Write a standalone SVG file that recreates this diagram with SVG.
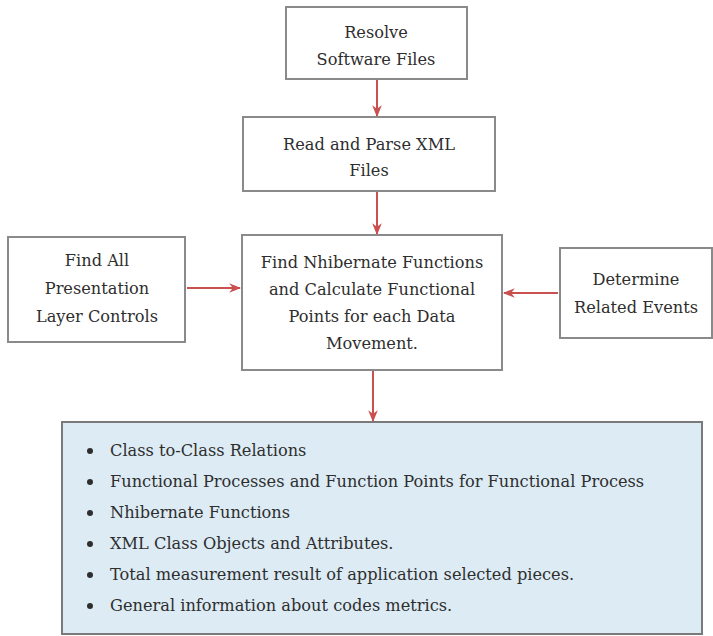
<svg xmlns="http://www.w3.org/2000/svg" width="713" height="636" viewBox="0 0 713 636">
<defs>
<style>
.box{fill:#ffffff;stroke:#8a8a8a;stroke-width:2}
.list{fill:#dcebf4;stroke:#7a7a7a;stroke-width:2}
.t{font-family:"DejaVu Serif","Liberation Serif",serif;font-size:16.2px;fill:#2e2e2e;text-anchor:middle}
.l{font-family:"DejaVu Serif","Liberation Serif",serif;font-size:16.2px;fill:#2e2e2e}
.c{stroke:#c9504f;stroke-width:2;fill:none;marker-end:url(#ah)}
</style>
<marker id="ah" viewBox="0 0 10 10" refX="9" refY="5" markerWidth="6" markerHeight="6" orient="auto" markerUnits="strokeWidth">
<path d="M0,1 L10,5 L0,9 L3,5 Z" fill="#c9504f"/>
</marker>
</defs>
<rect width="713" height="636" fill="#ffffff"/>
<g id="connectors">
<line class="c" x1="377" y1="80" x2="377" y2="116"/>
<line class="c" x1="377" y1="192" x2="377" y2="234"/>
<line class="c" x1="187" y1="288" x2="240" y2="288"/>
<line class="c" x1="558" y1="293" x2="504" y2="293"/>
<line class="c" x1="373" y1="371" x2="373" y2="421"/>
</g>
<g id="resolve">
<rect class="box" x="286" y="7" width="181" height="72"/>
<text class="t" x="376" y="38">Resolve</text>
<text class="t" x="376" y="65">Software Files</text>
</g>
<g id="read-parse">
<rect class="box" x="243" y="117" width="252" height="74"/>
<text class="t" x="369" y="150">Read and Parse XML</text>
<text class="t" x="369" y="176">Files</text>
</g>
<g id="find-all">
<rect class="box" x="8" y="237" width="177" height="105"/>
<text class="t" x="97" y="266">Find All</text>
<text class="t" x="97" y="294">Presentation</text>
<text class="t" x="97" y="322">Layer Controls</text>
</g>
<g id="find-nhibernate">
<rect class="box" x="242" y="235" width="260" height="135"/>
<text class="t" x="372" y="268">Find Nhibernate Functions</text>
<text class="t" x="372" y="295">and Calculate Functional</text>
<text class="t" x="372" y="322">Points for each Data</text>
<text class="t" x="372" y="349">Movement.</text>
</g>
<g id="determine">
<rect class="box" x="560" y="248" width="152" height="90"/>
<text class="t" x="636" y="285">Determine</text>
<text class="t" x="636" y="313">Related Events</text>
</g>
<g id="results">
<rect class="list" x="62" y="422" width="640" height="212"/>
<g fill="#2e2e2e">
<circle cx="90" cy="451" r="3"/>
<circle cx="90" cy="482" r="3"/>
<circle cx="90" cy="513" r="3"/>
<circle cx="90" cy="544" r="3"/>
<circle cx="90" cy="575" r="3"/>
<circle cx="90" cy="606" r="3"/>
</g>
<text class="l" x="110" y="456">Class to-Class Relations</text>
<text class="l" x="110" y="487">Functional Processes and Function Points for Functional Process</text>
<text class="l" x="110" y="518">Nhibernate Functions</text>
<text class="l" x="110" y="549">XML Class Objects and Attributes.</text>
<text class="l" x="110" y="580">Total measurement result of application selected pieces.</text>
<text class="l" x="110" y="611">General information about codes metrics.</text>
</g>
</svg>
